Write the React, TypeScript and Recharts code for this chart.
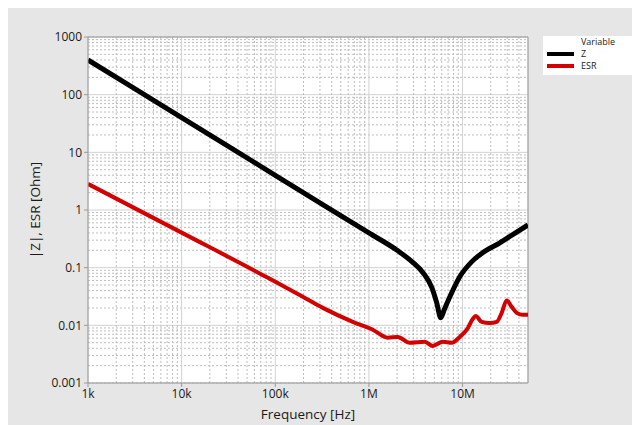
import React from 'react';
import {LineChart, Line, XAxis, YAxis, CartesianGrid, ReferenceLine, Label} from 'recharts';

// impedance |Z| of the part
const zFreq = [1e3, 1e4, 1e5, 1e6, 2e6, 2.9e6, 3.8e6, 4.7e6, 5.3e6, 5.85e6, 6.4e6, 7.3e6, 9.3e6, 12.5e6, 16.4e6, 25e6, 34e6, 50e6];
const zVals = [400, 40, 4, 0.4, 0.2, 0.126, 0.081, 0.045, 0.0245, 0.0135, 0.019, 0.031, 0.069, 0.126, 0.181, 0.27, 0.37, 0.55];

// equivalent series resistance
const esrFreq = [1e3, 1e4, 87.5e3, 197e3, 322e3, 673e3, 1.1e6, 1.59e6, 2.03e6, 2.73e6, 3.95e6, 4.81e6, 6.15e6, 7.67e6, 9.33e6, 11.1e6, 12.9e6, 13.8e6, 16e6, 19.5e6, 23.2e6, 26.2e6, 29.6e6, 33.5e6, 37.9e6, 43.9e6, 50e6];
const esrVals = [2.83, 0.405, 0.064, 0.0312, 0.0201, 0.0115, 0.0084, 0.0061, 0.0063, 0.005, 0.0052, 0.0044, 0.0052, 0.005, 0.0063, 0.0084, 0.013, 0.0145, 0.0115, 0.011, 0.0115, 0.0165, 0.027, 0.0209, 0.0165, 0.0152, 0.0152];

const xTicks = [1e3, 1e4, 1e5, 1e6, 1e7];
const xTickLabels = ['1k', '10k', '100k', '1M', '10M'];
const yTicks = [0.001, 0.01, 0.1, 1, 10, 100, 1000];
const yTickLabels = ['0.001', '0.01', '0.1', '1', '10', '100', '1000'];
const mults = [2, 3, 4, 5, 6, 7, 8, 9];

const xMin = 1e3;
const xMax = 5e7;
const yMin = 0.001;
const yMax = 1000;

// minor grid positions (2..9 within every decade)
const minorX = xTicks.flatMap((d) => mults.map((m) => d * m)).filter((v) => v < xMax);
const minorY = yTicks.slice(0, -1).flatMap((d) => mults.map((m) => d * m));

const zData = zFreq.map((f, i) => ({f, v: zVals[i]}));
const esrData = esrFreq.map((f, i) => ({f, v: esrVals[i]}));

const font = '"Open Sans", "Noto Sans", sans-serif';
const tickStyle = {fontSize: 12, fill: '#1a1a1a', fontFamily: font};

const LegendBox = () => (
  <div
    style={{
      position: 'absolute',
      left: 535,
      top: 28,
      width: 90,
      height: 39,
      background: '#fff',
      fontFamily: font,
      fontSize: 9,
      lineHeight: '10px',
      color: '#1a1a1a',
    }}
  >
    <div style={{position: 'absolute', left: 38, top: 1}}>Variable</div>
    <div style={{position: 'absolute', left: 4, top: 16, width: 27, height: 4, background: '#000'}} />
    <div style={{position: 'absolute', left: 38, top: 13}}>Z</div>
    <div style={{position: 'absolute', left: 4, top: 28, width: 27, height: 4, background: '#d40000'}} />
    <div style={{position: 'absolute', left: 38, top: 25}}>ESR</div>
  </div>
);

export default function App() {
  return (
    <div style={{position: 'relative', width: 632, height: 417, background: '#e6e6e6'}}>
      <LineChart width={632} height={417} margin={{top: 29, right: 112, left: 0, bottom: 0}}>
        <XAxis
          dataKey="f"
          type="number"
          scale="log"
          domain={[xMin, xMax]}
          allowDataOverflow
          ticks={xTicks}
          tickFormatter={(v: number) => xTickLabels[xTicks.indexOf(v)]}
          tick={tickStyle}
          tickSize={4}
          tickMargin={2}
          height={42}
          stroke="#9a9a9a"
        >
          <Label value="Frequency [Hz]" position="insideBottom" offset={6} style={{fontSize: 13.5, fill: '#1a1a1a', fontFamily: font}} />
        </XAxis>
        <YAxis
          type="number"
          scale="log"
          domain={[yMin, yMax]}
          allowDataOverflow
          ticks={yTicks}
          tickFormatter={(v: number) => yTickLabels[yTicks.indexOf(v)]}
          tick={tickStyle}
          tickSize={4}
          tickMargin={2}
          width={80}
          stroke="#9a9a9a"
        >
          <Label
            value="|Z|, ESR [Ohm]"
            angle={-90}
            position="insideLeft"
            offset={27}
            style={{fontSize: 13.5, fill: '#1a1a1a', fontFamily: font, textAnchor: 'middle'}}
          />
        </YAxis>
        <YAxis yAxisId="minor" type="number" scale="log" domain={[yMin, yMax]} allowDataOverflow ticks={minorY} interval={0} hide />
        <CartesianGrid yAxisId="minor" vertical={false} stroke="#bdbdbd" strokeDasharray="2 2" fill="#fff" />
        {minorX.map((v) => (
          <ReferenceLine key={`mx-${v}`} x={v} stroke="#bdbdbd" strokeDasharray="2 2" />
        ))}
        <CartesianGrid stroke="#d2d2d2" />
        <ReferenceLine y={yMax} stroke="#9a9a9a" />
        <ReferenceLine x={xMax} stroke="#9a9a9a" />
        <Line data={zData} dataKey="v" type="monotone" stroke="#000" strokeWidth={5} dot={false} isAnimationActive={false} />
        <Line data={esrData} dataKey="v" type="monotone" stroke="#d40000" strokeWidth={4} dot={false} isAnimationActive={false} />
      </LineChart>
      <LegendBox />
    </div>
  );
}
